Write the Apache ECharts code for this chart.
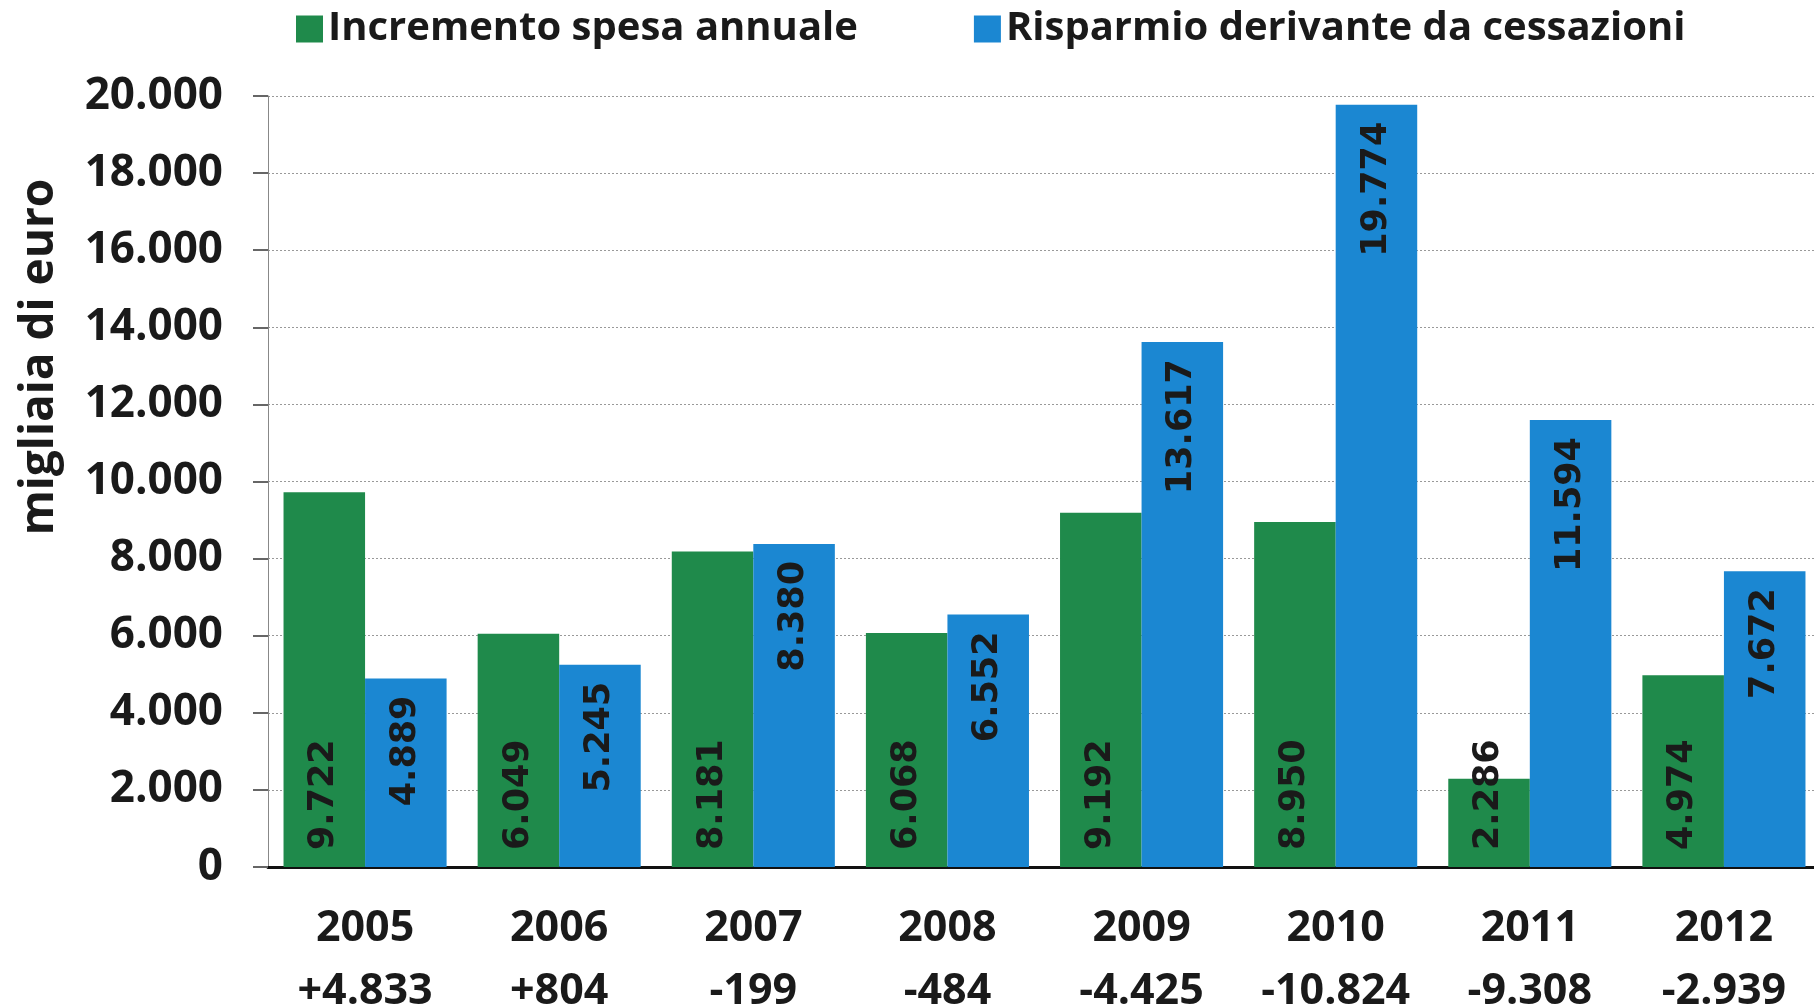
<!DOCTYPE html>
<html>
<head>
<meta charset="utf-8">
<script src="https://cdn.jsdelivr.net/npm/echarts@6/dist/echarts.min.js"></script>
<style>
  html, body { margin: 0; padding: 0; background: #fff; }
  #chart { width: 1814px; height: 1007px; }
</style>
</head>
<body>
<div id="chart"></div>
<script>
var years = ['2005', '2006', '2007', '2008', '2009', '2010', '2011', '2012']
var saldo = ['+4.833', '+804', '-199', '-484', '-4.425', '-10.824', '-9.308', '-2.939']
var incremento = [9722, 6049, 8181, 6068, 9192, 8950, 2286, 4974]
var risparmio = [4889, 5245, 8380, 6552, 13617, 19774, 11594, 7672]

var labelFont = 'Open Sans'

// numero con il punto come separatore delle migliaia
function fmt (v) {
    return String(v).replace(/\B(?=(\d{3})+(?!\d))/g, '.')
}

var option = {
    animation: false,
    legend: {
        top: 4,
        left: 291,
        itemWidth: 27,
        itemHeight: 27,
        itemGap: 116,
        icon: 'rect',
        textStyle: {
            fontFamily: labelFont,
            fontWeight: 'bold',
            fontSize: 40,
            color: '#1a1a1a'
        },
        data: ['Incremento spesa annuale', 'Risparmio derivante da cessazioni']
    },
    // titolo asse y, spostato verso l'alto come nell'originale
    graphic: [
        {
            type: 'text',
            x: 40,
            y: 357,
            rotation: Math.PI / 2,
            style: {
                text: 'migliaia di euro',
                font: 'bold 46px "Open Sans"',
                fill: '#1a1a1a',
                align: 'center',
                verticalAlign: 'middle'
            }
        }
    ],
    grid: {
        left: 268,
        top: 96,
        width: 1553,
        height: 771,
        outerBoundsMode: 'none',
        containLabel: false
    },
    xAxis: {
        type: 'category',
        data: years,
        axisLine: { lineStyle: { color: '#111', width: 3 } },
        axisTick: { length: 26, lineStyle: { color: '#111', width: 2 } },
        axisLabel: {
            margin: 30,
            fontFamily: labelFont,
            fontWeight: 'bold',
            fontSize: 43,
            lineHeight: 63,
            color: '#1a1a1a',
            formatter: function (value, idx) {
                return value + '\n' + saldo[idx]
            }
        }
    },
    yAxis: {
        type: 'value',
        min: 0,
        max: 20000,
        interval: 2000,
        axisLine: { show: true, lineStyle: { color: '#888', width: 1 } },
        axisTick: { show: true, length: 15, lineStyle: { color: '#666', width: 2 } },
        splitLine: { lineStyle: { color: '#999', type: [2, 2], width: 1 } },
        axisLabel: {
            margin: 45,
            fontFamily: labelFont,
            fontWeight: 'bold',
            fontSize: 44,
            color: '#1a1a1a',
            formatter: fmt
        }
    },
    series: [
        {
            name: 'Incremento spesa annuale',
            type: 'bar',
            barGap: 0,
            barCategoryGap: '16%',
            itemStyle: { color: '#1f8a4b' },
            label: {
                show: true,
                position: 'insideBottom',
                rotate: 90,
                align: 'left',
                verticalAlign: 'middle',
                distance: 17,
                fontFamily: 'DejaVu Sans',
                fontWeight: 'bold',
                fontSize: 35,
                color: '#1a1a1a',
                formatter: function (p) { return fmt(p.value) }
            },
            data: incremento
        },
        {
            name: 'Risparmio derivante da cessazioni',
            type: 'bar',
            itemStyle: { color: '#1b87d2' },
            label: {
                show: true,
                position: 'insideTop',
                rotate: 90,
                align: 'right',
                verticalAlign: 'middle',
                distance: 17,
                fontFamily: 'DejaVu Sans',
                fontWeight: 'bold',
                fontSize: 35,
                color: '#1a1a1a',
                formatter: function (p) { return fmt(p.value) }
            },
            data: risparmio
        }
    ]
}

var myChart = echarts.init(document.getElementById('chart'))
myChart.setOption(option)
</script>
</body>
</html>
